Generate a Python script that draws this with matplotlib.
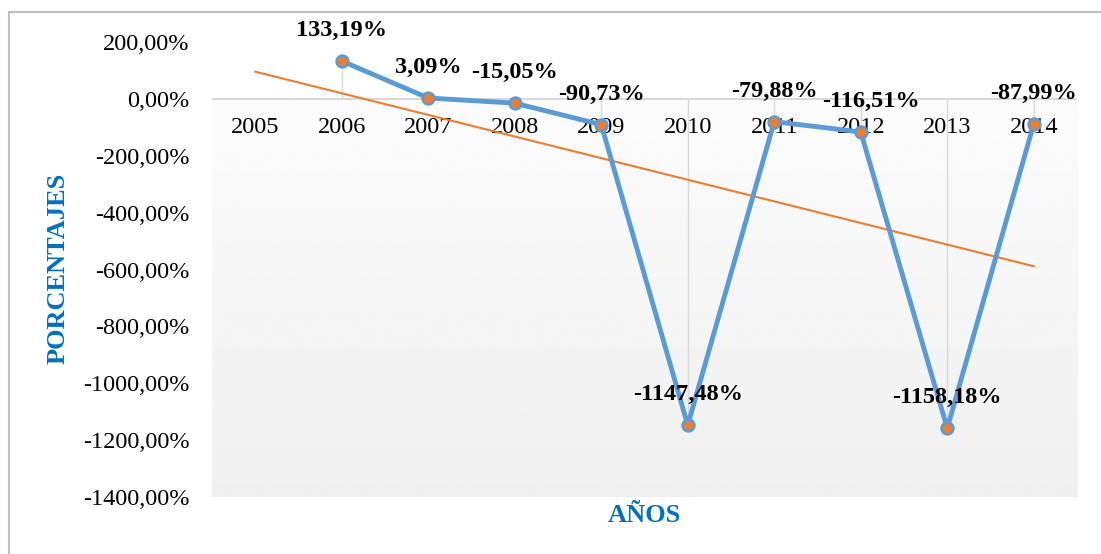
import numpy as np
import matplotlib
matplotlib.use("Agg")
import matplotlib.pyplot as plt
from matplotlib.patches import Rectangle

# Datos del grafico
years = ["2005", "2006", "2007", "2008", "2009", "2010", "2011", "2012", "2013", "2014"]
values = [np.nan, 133.19, 3.09, -15.05, -90.73, -1147.48, -79.88, -116.51, -1158.18, -87.99]
value_labels = ["", "133,19%", "3,09%", "-15,05%", "-90,73%", "-1147,48%",
                "-79,88%", "-116,51%", "-1158,18%", "-87,99%"]
y_ticks = [200, 0, -200, -400, -600, -800, -1000, -1200, -1400]
y_tick_labels = ["200,00%", "0,00%", "-200,00%", "-400,00%", "-600,00%",
                 "-800,00%", "-1000,00%", "-1200,00%", "-1400,00%"]

blue = "#5B9BD5"
orange = "#ED7D31"
title_blue = "#0070C0"
grid_gray = "#D9D9D9"

plt.rcParams["font.family"] = ["Liberation Serif", "DejaVu Serif"]

W, H = 1101, 554
fig = plt.figure(figsize=(W / 100, H / 100), dpi=100)
ax = fig.add_axes([212 / W, 1 - 497 / H, (1077 - 212) / W, (497 - 42) / H])

x = np.arange(len(years))
y = np.array(values)

# Fondo degradado (solo debajo de cero)
grad = np.linspace(0.985, 0.94, 256).reshape(-1, 1)
ax.imshow(grad, cmap="gray", vmin=0, vmax=1, aspect="auto",
          extent=(-0.5, 9.5, -1400, 0), zorder=0, interpolation="bilinear")

# Linea del cero y lineas de caida
ax.axhline(0, color=grid_gray, lw=1.5, zorder=1)
mask = ~np.isnan(y)
ax.vlines(x[mask], 0, y[mask], color=grid_gray, lw=1.0, zorder=1)

# Linea de tendencia lineal
coef = np.polyfit(x[mask], y[mask], 1)
ax.plot([x[0], x[-1]], np.polyval(coef, [x[0], x[-1]]), color=orange, lw=1.5, zorder=2)

# Serie principal
ax.plot(x, y, color=blue, lw=3.5, marker="o", markersize=8.5,
        markerfacecolor=orange, markeredgecolor=blue, markeredgewidth=1.8, zorder=3)

# Etiquetas de datos
for i in range(len(years)):
    if not mask[i]:
        continue
    dx = 7 if years[i] == "2012" else 0
    ax.annotate(value_labels[i], (x[i], y[i]), xytext=(dx, 22), textcoords="offset points",
                ha="center", va="center", fontsize=17.5, fontweight="bold", zorder=4)

ax.set_xlim(-0.5, 9.5)
ax.set_ylim(-1400, 200)
ax.set_yticks(y_ticks)
ax.set_yticklabels(y_tick_labels)
ax.set_xticks(x)
ax.set_xticklabels(years)
ax.spines["bottom"].set_position(("data", 0))
for s in ax.spines.values():
    s.set_visible(False)
ax.tick_params(axis="both", length=0, labelsize=17.5)
ax.tick_params(axis="y", pad=16)
ax.tick_params(axis="x", pad=13)

fig.text(58 / W, 1 - 268 / H, "PORCENTAJES", rotation=90, ha="center", va="center",
         fontsize=19, fontweight="bold", color=title_blue)
fig.text(644 / W, 1 - 515 / H, "AÑOS", ha="center", va="center",
         fontsize=19, fontweight="bold", color=title_blue)

# Marco exterior
fig.add_artist(Rectangle((9 / W, -0.2), 1.2, 1.2 - 12 / H,
                         transform=fig.transFigure, fill=False, edgecolor="#BFBFBF", lw=1.5))

fig.savefig("out.png", dpi=100)
